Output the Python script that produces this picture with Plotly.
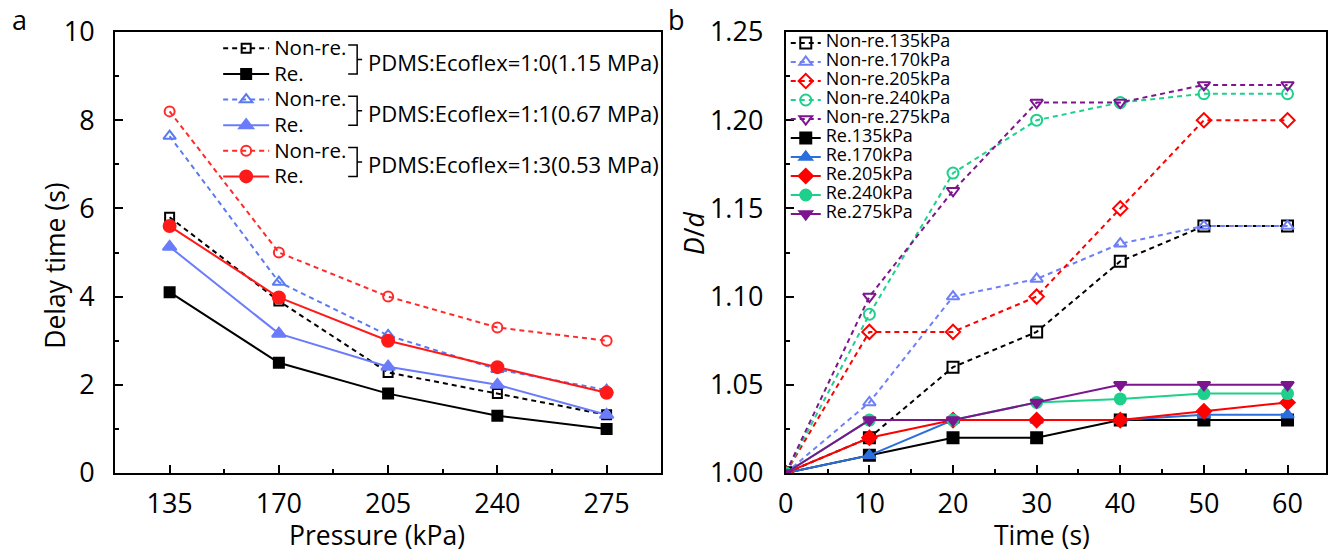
import plotly.graph_objects as go

# ---------------- data ----------------
pressure = [135, 170, 205, 240, 275]
delay_nonre_10 = [5.8, 3.9, 2.28, 1.8, 1.32]
delay_re_10 = [4.1, 2.5, 1.8, 1.3, 1.0]
delay_nonre_11 = [7.64, 4.33, 3.12, 2.35, 1.88]
delay_re_11 = [5.13, 3.16, 2.41, 2.0, 1.32]
delay_nonre_13 = [8.2, 5.0, 4.0, 3.3, 3.0]
delay_re_13 = [5.6, 3.98, 3.0, 2.4, 1.82]

time_s = [0, 10, 20, 30, 40, 50, 60]
nonre_135 = [1.00, 1.02, 1.06, 1.08, 1.12, 1.14, 1.14]
nonre_170 = [1.00, 1.04, 1.10, 1.11, 1.13, 1.14, 1.14]
nonre_205 = [1.00, 1.08, 1.08, 1.10, 1.15, 1.20, 1.20]
nonre_240 = [1.00, 1.09, 1.17, 1.20, 1.21, 1.215, 1.215]
nonre_275 = [1.00, 1.10, 1.16, 1.21, 1.21, 1.22, 1.22]
re_135 = [1.00, 1.01, 1.02, 1.02, 1.03, 1.03, 1.03]
re_170 = [1.00, 1.01, 1.03, 1.03, 1.03, 1.033, 1.033]
re_205 = [1.00, 1.02, 1.03, 1.03, 1.03, 1.035, 1.04]
re_240 = [1.00, 1.03, 1.03, 1.04, 1.042, 1.045, 1.045]
re_275 = [1.00, 1.03, 1.03, 1.04, 1.05, 1.05, 1.05]

legend_a_names = ["Non-re.", "Re.", "Non-re.", "Re.", "Non-re.", "Re."]
group_labels = ["PDMS:Ecoflex=1:0(1.15 MPa)", "PDMS:Ecoflex=1:1(0.67 MPa)", "PDMS:Ecoflex=1:3(0.53 MPa)"]
legend_b_names = ["Non-re.135kPa", "Non-re.170kPa", "Non-re.205kPa", "Non-re.240kPa", "Non-re.275kPa",
                  "Re.135kPa", "Re.170kPa", "Re.205kPa", "Re.240kPa", "Re.275kPa"]
axis_titles = {"xa": "Pressure (kPa)", "ya": "Delay time (s)", "xb": "Time (s)", "yb": "<i>D</i>/<i>d</i>"}

# ---------------- layout geometry (pixels) ----------------
FW, FH = 1335, 556
L, Rpx, T, Bpx = 115.0, 1327.7, 32.3, 473.3
W, H = Rpx - L, Bpx - T
FONT = "Open Sans"


def px(x):
    return (x - L) / W


def py(y):
    return (Bpx - y) / H


fig = go.Figure()
DASH = "5px,4px"

# ---------------- panel a ----------------
a_series = [
    (delay_nonre_10, "#000000", "square-open", 9, DASH),
    (delay_re_10, "#000000", "square", 10, "solid"),
    (delay_nonre_11, "#5a7af2", "triangle-up-open", 11, DASH),
    (delay_re_11, "#6a7cfa", "triangle-up", 12, "solid"),
    (delay_nonre_13, "#ff2a2a", "circle-open", 10, DASH),
    (delay_re_13, "#ff1a1a", "circle", 12, "solid"),
]
for (vals, col, sym, sz, dash), nm in zip(a_series, legend_a_names):
    fig.add_trace(go.Scatter(
        x=pressure, y=vals, mode="lines+markers", xaxis="x", yaxis="y",
        name='<span style="font-size:20.5px">%s</span>' % nm, legend="legend",
        line=dict(color=col, width=2, dash=dash),
        marker=dict(symbol=sym, size=sz, color=col, line=dict(color=col, width=2)),
    ))

# ---------------- panel b ----------------
b_series = [
    (nonre_135, "#000000", "square-open", DASH),
    (nonre_170, "#6f80f7", "triangle-up-open", DASH),
    (nonre_205, "#ff0000", "diamond-open", DASH),
    (nonre_240, "#1dd08c", "circle-open", DASH),
    (nonre_275, "#7d158f", "triangle-down-open", DASH),
    (re_135, "#000000", "square", "solid"),
    (re_170, "#2a6fdc", "triangle-up", "solid"),
    (re_205, "#ff0000", "diamond", "solid"),
    (re_240, "#1dd08c", "circle", "solid"),
    (re_275, "#7d158f", "triangle-down", "solid"),
]
for (vals, col, sym, dash), nm in zip(b_series, legend_b_names):
    fig.add_trace(go.Scatter(
        x=time_s, y=vals, mode="lines+markers", xaxis="x2", yaxis="y2",
        name='<span style="font-size:18px">%s</span>' % nm, legend="legend2",
        line=dict(color=col, width=2, dash=dash),
        marker=dict(symbol=sym, size=11, color=col, line=dict(color=col, width=2)),
    ))

axis_common = dict(
    showline=True, linewidth=2, linecolor="black", mirror=True,
    showgrid=False, zeroline=False, ticks="inside", ticklen=8, tickwidth=2,
    tickcolor="black", tickfont=dict(family=FONT, size=27, color="black"),
)
minor_common = dict(ticks="inside", ticklen=4, tickwidth=2, tickcolor="black", showgrid=False)

fig.update_layout(
    width=FW, height=FH,
    margin=dict(l=L, r=FW - Rpx, t=T, b=FH - Bpx, pad=0),
    paper_bgcolor="white", plot_bgcolor="white",
    font=dict(family=FONT, color="black"),
    xaxis=dict(domain=[0, px(662)], range=[117.5, 292.5], tickmode="linear", tick0=135, dtick=35,
               minor=dict(dtick=17.5, tick0=135, **minor_common), anchor="y",
               ticklabelstandoff=6, **axis_common),
    yaxis=dict(domain=[0, 1], range=[0, 10], tickmode="linear", tick0=0, dtick=2,
               minor=dict(dtick=1, tick0=0, **minor_common), anchor="x",
               ticklabelstandoff=13, **axis_common),
    xaxis2=dict(domain=[px(786.7), 1], range=[0, 64.6], tickmode="linear", tick0=0, dtick=10,
                minor=dict(dtick=5, tick0=0, **minor_common), anchor="y2",
                ticklabelstandoff=6, **axis_common),
    yaxis2=dict(domain=[0, 1], range=[1.0, 1.25], tickmode="linear", tick0=1.0, dtick=0.05,
                tickformat=".2f",
                minor=dict(dtick=0.025, tick0=1.0, **minor_common), anchor="x2",
                ticklabelstandoff=15, **axis_common),
    legend=dict(x=px(218.3), y=py(30.8), xanchor="left", yanchor="top",
                font=dict(family=FONT, size=17.4, color="black"),
                bgcolor="rgba(0,0,0,0)", borderwidth=0, tracegroupgap=0,
                itemwidth=46, traceorder="normal"),
    legend2=dict(x=px(786.7), y=py(28.8), xanchor="left", yanchor="top",
                 font=dict(family=FONT, size=11, color="black"),
                 bgcolor="rgba(0,0,0,0)", borderwidth=0, tracegroupgap=0,
                 itemwidth=30, traceorder="normal"),
    showlegend=True,
)

# axis titles
title_font = dict(family=FONT, size=26.5, color="black")
fig.add_annotation(text=axis_titles["xa"], x=px(377), y=py(555.5), xref="paper", yref="paper",
                   xanchor="center", yanchor="bottom", showarrow=False, font=title_font)
fig.add_annotation(text=axis_titles["xb"], x=px(1043), y=py(555.5), xref="paper", yref="paper",
                   xanchor="center", yanchor="bottom", showarrow=False, font=title_font)
fig.add_annotation(text=axis_titles["ya"], x=px(55), y=py(266), xref="paper", yref="paper",
                   xanchor="center", yanchor="middle", textangle=-90, showarrow=False, font=title_font)
fig.add_annotation(text=axis_titles["yb"], x=px(695), y=py(234), xref="paper", yref="paper",
                   xanchor="center", yanchor="middle", textangle=-90, showarrow=False, font=title_font)

# panel letters
fig.add_annotation(text="a", x=px(19), y=py(20), xref="paper", yref="paper",
                   xanchor="center", yanchor="middle",
                   showarrow=False, font=dict(family=FONT, size=27, color="black"))
fig.add_annotation(text="b", x=px(677), y=py(20), xref="paper", yref="paper",
                   xanchor="center", yanchor="middle",
                   showarrow=False, font=dict(family=FONT, size=27, color="black"))

# group brackets and labels for legend of panel a
row0, row_h = 48.3, 25.6
for g, lab in enumerate(group_labels):
    r1 = row0 + 2 * g * row_h
    r2 = r1 + row_h
    top, bot = r1 - 3, r2 + 0.5
    mid = (top + bot) / 2
    x1, x2, x3 = 348.5, 357.5, 362.5
    path = "M %f,%f L %f,%f L %f,%f L %f,%f M %f,%f L %f,%f" % (
        px(x1), py(top), px(x2), py(top), px(x2), py(bot), px(x1), py(bot),
        px(x2), py(mid), px(x3), py(mid))
    fig.add_shape(type="path", path=path, xref="paper", yref="paper",
                  line=dict(color="black", width=1.5))
    fig.add_annotation(text=lab, x=px(366.5), y=py(mid + 2.5), xref="paper", yref="paper",
                       xanchor="left", yanchor="middle", showarrow=False,
                       font=dict(family=FONT, size=22, color="black"))

fig.write_html("out.html")
